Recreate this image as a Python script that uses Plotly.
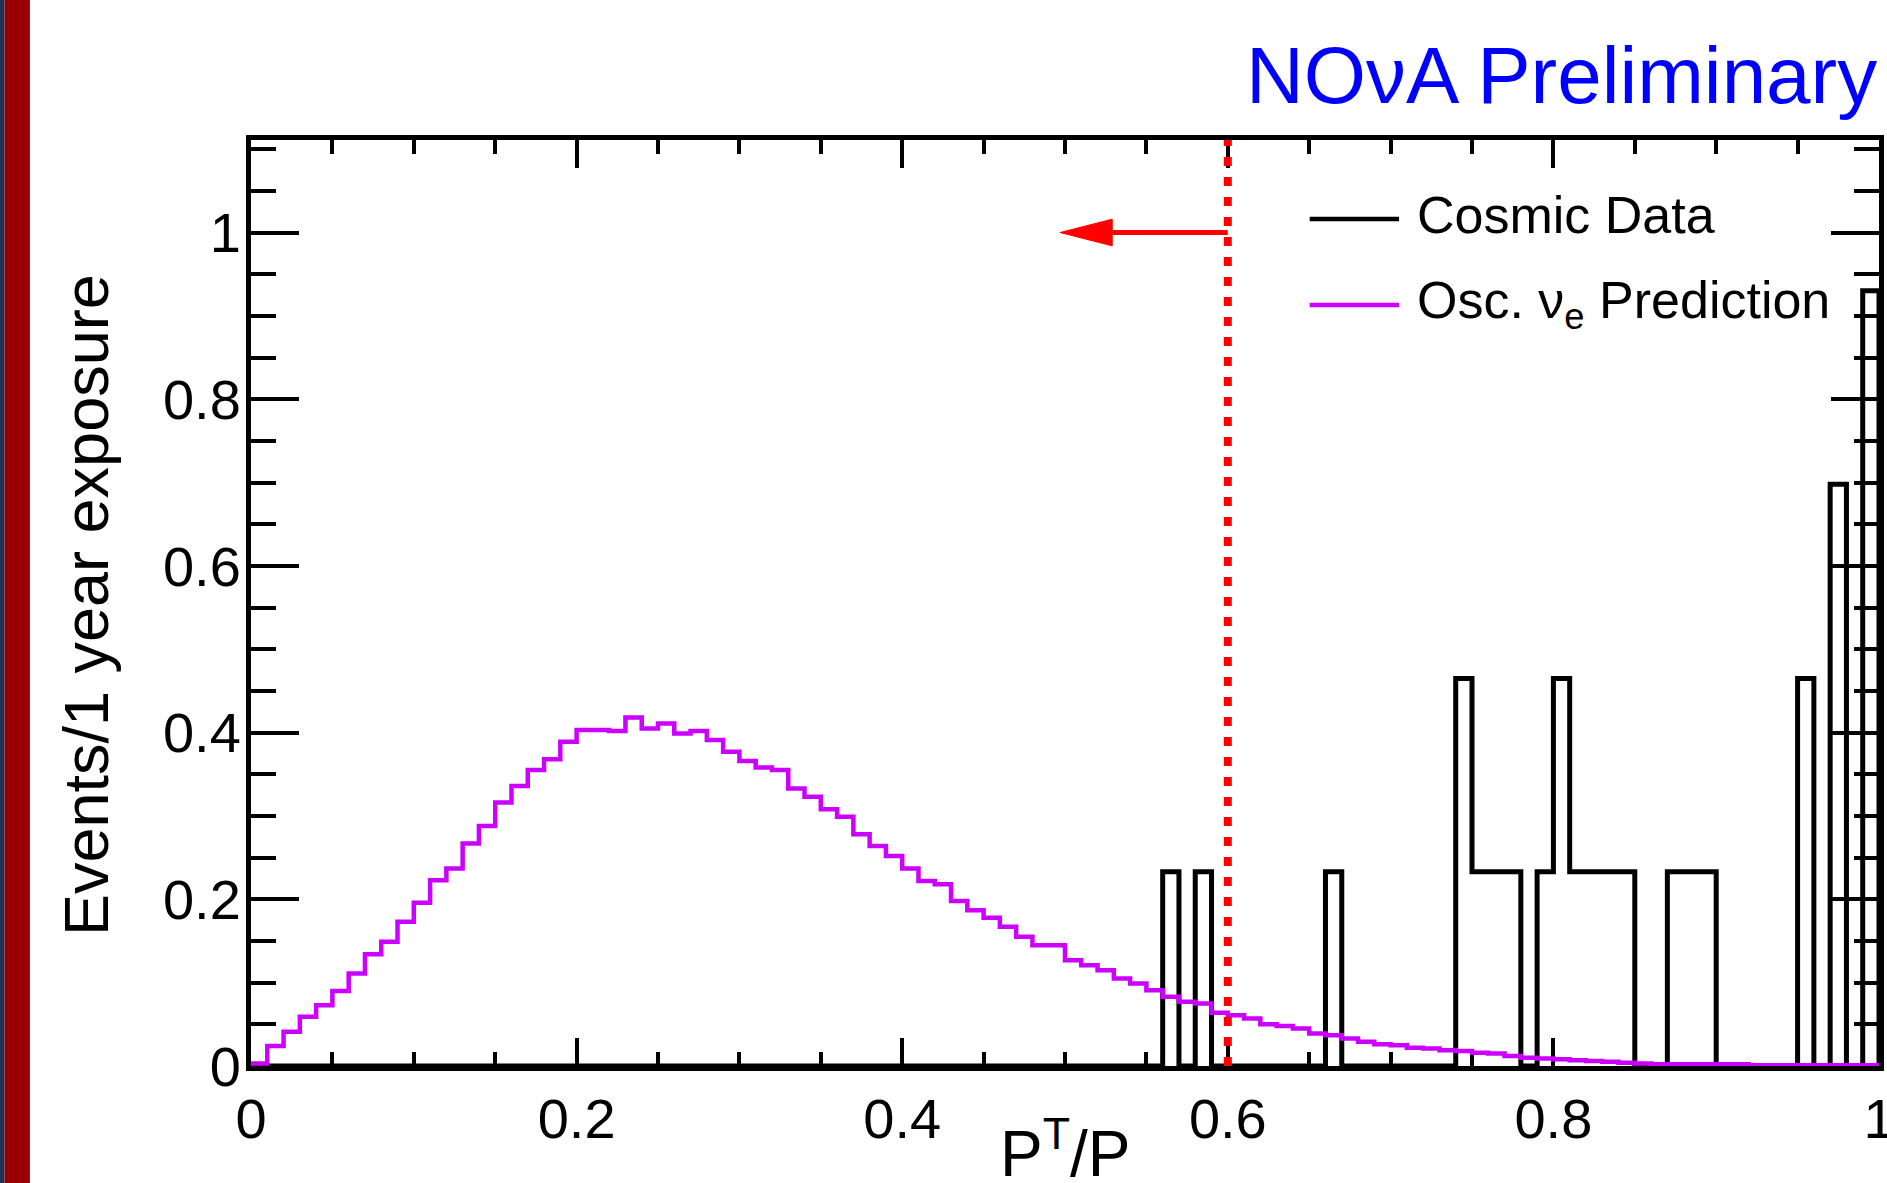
import numpy as np
import plotly.graph_objects as go

# Binning of the P^T/P histograms
n_bins = 100
x_min, x_max = 0.0, 1.0
bin_edges = np.linspace(x_min, x_max, n_bins + 1)
bin_width = (x_max - x_min) / n_bins

# Oscillated nu_e prediction, events / 1 year exposure per bin
prediction = [
    0.003, 0.024, 0.041, 0.059, 0.073, 0.090, 0.111, 0.134, 0.149, 0.173,
    0.196, 0.223, 0.237, 0.267, 0.288, 0.316, 0.336, 0.355, 0.368, 0.389,
    0.403, 0.403, 0.402, 0.418, 0.405, 0.411, 0.399, 0.402, 0.391, 0.377,
    0.366, 0.358, 0.355, 0.333, 0.323, 0.308, 0.299, 0.278, 0.264, 0.252,
    0.237, 0.222, 0.218, 0.198, 0.187, 0.178, 0.167, 0.155, 0.145, 0.145,
    0.127, 0.121, 0.115, 0.105, 0.099, 0.091, 0.083, 0.077, 0.075, 0.064,
    0.061, 0.057, 0.050, 0.048, 0.045, 0.039, 0.037, 0.033, 0.029, 0.026,
    0.025, 0.022, 0.021, 0.019, 0.018, 0.016, 0.015, 0.012, 0.010, 0.009,
    0.008, 0.007, 0.006, 0.005, 0.004, 0.003, 0.002, 0.002, 0.002, 0.002,
    0.002, 0.002, 0.001, 0.001, 0.001, 0.001, 0.001, 0.001, 0.001, 0.001,
]

# Cosmic data: lower edges of the filled bins and their contents
cosmic_bins = [0.56, 0.58, 0.66, 0.74, 0.75, 0.76, 0.77, 0.79, 0.80, 0.81,
               0.82, 0.83, 0.84, 0.87, 0.88, 0.89, 0.95, 0.97, 0.99]
cosmic_values = [0.233, 0.233, 0.233, 0.465, 0.233, 0.233, 0.233, 0.233, 0.465, 0.233,
                 0.233, 0.233, 0.233, 0.233, 0.233, 0.233, 0.465, 0.698, 0.930]

# Selection cut on P^T/P (events to the left are kept)
cut_value = 0.6
arrow_tip = 0.497
arrow_level = 1.0
arrow_head_length = 0.032
arrow_head_half_height = 0.016

x_tick_vals = [0, 0.2, 0.4, 0.6, 0.8, 1.0]
x_tick_text = ["0", "0.2", "0.4", "0.6", "0.8", "1"]
y_tick_vals = [0, 0.2, 0.4, 0.6, 0.8, 1.0]
y_tick_text = ["0", "0.2", "0.4", "0.6", "0.8", "1"]
y_max = 1.111

FONT = "Liberation Sans, Arial, Helvetica, sans-serif"
MAGENTA = "#cc00ff"
RED = "#ff0000"


def step_outline(contents):
    """Closed histogram outline drawn with horizontal-then-vertical steps."""
    xs = np.concatenate([[bin_edges[0]], bin_edges])
    ys = np.concatenate([[0.0], contents, [0.0]])
    return xs, ys


cosmic = np.zeros(n_bins)
cosmic_idx = np.rint((np.array(cosmic_bins) - x_min) / bin_width).astype(int)
cosmic[cosmic_idx] = cosmic_values

fig = go.Figure()

cx, cy = step_outline(cosmic)
fig.add_trace(go.Scatter(
    x=cx, y=cy, mode="lines", line=dict(color="black", width=5, shape="hv"),
    name="Cosmic Data", showlegend=False, hoverinfo="skip",
))

px_, py_ = step_outline(np.array(prediction))
fig.add_trace(go.Scatter(
    x=px_, y=py_, mode="lines", line=dict(color=MAGENTA, width=4.5, shape="hv"),
    name="Osc. \u03bd<sub>e</sub> Prediction", showlegend=False, hoverinfo="skip",
))

# Dotted cut line and arrow pointing to the selected region
fig.add_shape(type="line", xref="x", yref="y", x0=cut_value, x1=cut_value,
              y0=0, y1=y_max, line=dict(color=RED, width=8, dash="9px,11px"),
              layer="above")
head_base = arrow_tip + arrow_head_length
fig.add_shape(type="line", xref="x", yref="y", x0=cut_value, x1=head_base - 0.002,
              y0=arrow_level, y1=arrow_level, line=dict(color=RED, width=5),
              layer="above")
fig.add_shape(type="path", xref="x", yref="y",
              path=(f"M {arrow_tip},{arrow_level} "
                    f"L {head_base},{arrow_level + arrow_head_half_height} "
                    f"L {head_base},{arrow_level - arrow_head_half_height} Z"),
              fillcolor=RED, line=dict(color=RED, width=1), layer="above")

# Left-hand slide strip
fig.add_shape(type="rect", xref="paper", yref="paper", x0=-0.17, x1=-0.1514,
              y0=-0.13, y1=1.16, fillcolor="#1c3557", line_width=0, layer="below")
fig.add_shape(type="rect", xref="paper", yref="paper", x0=-0.1514, x1=-0.1358,
              y0=-0.13, y1=1.16, fillcolor="#990000", line_width=0, layer="below")

# Legend drawn by hand
legend_rows = [("Cosmic Data", "black", 0.9147, 0.9525),
               ("Osc. \u03bd<sub>e</sub> Prediction", MAGENTA, 0.8218, 0.8607)]
for label, color, y_line, y_text in legend_rows:
    fig.add_shape(type="line", xref="paper", yref="paper", x0=0.6503, x1=0.7052,
                  y0=y_line, y1=y_line, line=dict(color=color, width=4.5))
    fig.add_annotation(x=0.715, y=y_text, xref="paper", yref="paper", text=label,
                       showarrow=False, xanchor="left", yanchor="top",
                       font=dict(family=FONT, size=52, color="black"))

# Title and axis titles
fig.add_annotation(x=1.0, y=1.1199, xref="paper", yref="paper",
                   text="NO\u03bdA Preliminary", showarrow=False,
                   xanchor="right", yanchor="top",
                   font=dict(family=FONT, size=80, color="#0000ff"))
fig.add_annotation(x=0.5, y=-0.1361, xref="paper", yref="paper",
                   text="P<sup>T</sup>/P", showarrow=False,
                   xanchor="center", yanchor="bottom",
                   font=dict(family=FONT, size=64, color="black"))
fig.add_annotation(x=-0.1013, y=0.4978, xref="paper", yref="paper",
                   text="Events/1 year exposure", showarrow=False, textangle=-90,
                   xanchor="center", yanchor="middle",
                   font=dict(family=FONT, size=63, color="black"))

axis_common = dict(
    showline=True, linewidth=5, linecolor="black", mirror="ticks",
    ticks="inside", tickwidth=3.5, tickcolor="black", automargin=False,
    showgrid=False, zeroline=False, layer="below traces",
    tickfont=dict(family=FONT, size=56, color="black"),
)

fig.update_xaxes(
    range=[x_min, x_max], tickvals=x_tick_vals, ticktext=x_tick_text,
    ticklen=28, ticklabeloverflow="allow",
    minor=dict(dtick=0.05, tick0=0, ticklen=14, tickwidth=3.5, tickcolor="black",
               ticks="inside"),
    **axis_common,
)
fig.update_yaxes(
    range=[0, y_max], tickvals=y_tick_vals, ticktext=y_tick_text,
    ticklen=48, ticklabelstandoff=-6,
    minor=dict(dtick=0.05, tick0=0, ticklen=25, tickwidth=3.5, tickcolor="black",
               ticks="inside"),
    **axis_common,
)

fig.update_layout(
    template="none",
    width=1887, height=1183,
    margin=dict(l=251, r=8, t=140, b=117, pad=0),
    paper_bgcolor="white", plot_bgcolor="white",
    showlegend=False,
    font=dict(family=FONT, color="black"),
)

fig.write_html("out.html")
